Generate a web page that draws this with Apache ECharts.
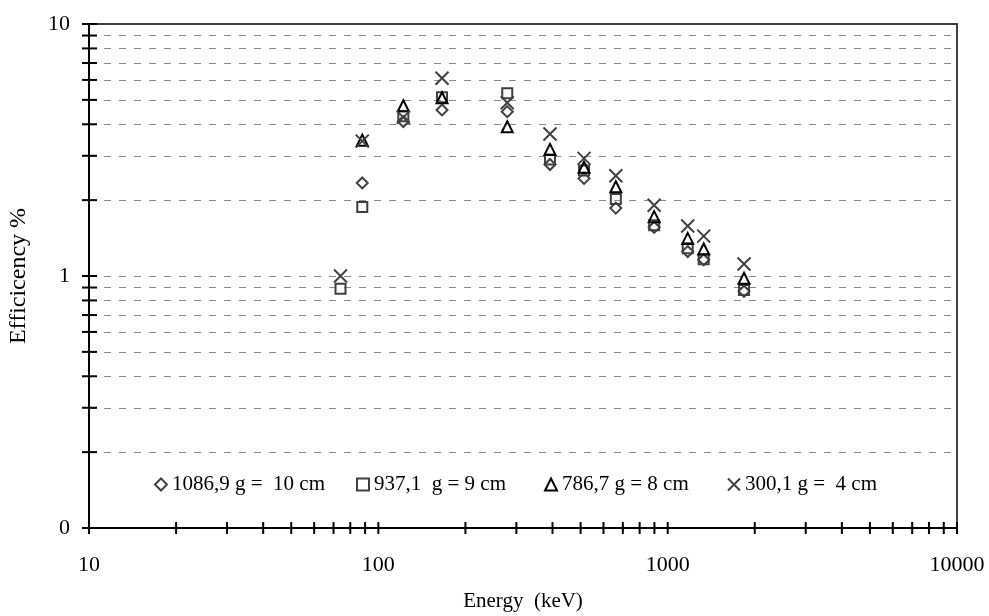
<!DOCTYPE html>
<html><head><meta charset="utf-8">
<script src="https://cdn.jsdelivr.net/npm/echarts@6/dist/echarts.min.js"></script>
<style>html,body{margin:0;padding:0;background:#fff}#c{width:989px;height:616px}</style>
</head><body><div id="c"></div>
<script>
const energies = [74, 88, 122, 166, 279, 392, 514, 662, 898, 1173, 1332, 1836];
const seriesNames = ['1086,9 g =  10 cm', '937,1  g = 9 cm', '786,7 g = 8 cm', '300,1 g =  4 cm'];
const diamondVals = [null, 2.34, 4.10, 4.56, 4.49, 2.77, 2.44, 1.86, 1.56, 1.25, 1.16, 0.87];
const squareVals = [0.89, 1.88, 4.30, 5.12, 5.31, 2.90, 2.62, 2.02, 1.59, 1.29, 1.165, 0.88];
const triangleVals = [null, 3.46, 4.74, 5.10, 3.91, 3.18, 2.70, 2.26, 1.72, 1.41, 1.28, 0.98];
const crossVals = [1.00, 3.43, 4.26, 6.09, 4.87, 3.66, 2.93, 2.50, 1.91, 1.58, 1.44, 1.116];
const xTickValues = [10,20,30,40,50,60,70,80,90,100,200,300,400,500,600,700,800,900,1000,2000,3000,4000,5000,6000,7000,8000,9000,10000];
const yTickValues = [0.1,0.2,0.3,0.4,0.5,0.6,0.7,0.8,0.9,1,2,3,4,5,6,7,8,9,10];
const yGridValues = [0.2,0.3,0.4,0.5,0.6,0.7,0.8,0.9,1,2,3,4,5,6,7,8,9];

const FONT = 'Liberation Serif';
function pairs(vals) { return energies.map((e, i) => vals[i] == null ? null : [e, vals[i]]).filter(Boolean); }

const symbols = ['diamond', 'rect', 'triangle', 'path://M0,0L10,10M10,0L0,10'];
const sizes = [11, 10, 11, 13];
const colors = ['#404040', '#404040', '#000000', '#404040'];
const valueSets = [diamondVals, squareVals, triangleVals, crossVals];
const legendLefts = [154, 356, 544, 727];

const scatterSeries = seriesNames.map((n, i) => ({
  name: n, type: 'scatter', symbol: symbols[i], symbolSize: sizes[i],
  data: pairs(valueSets[i]), z: 5,
  itemStyle: { color: 'rgba(0,0,0,0)', borderColor: colors[i], borderWidth: 2, opacity: 1 },
  emphasis: { disabled: true }
}));

const tickLine = (horizontal) => (params, api) => {
  const p = api.coord([api.value(0), api.value(1)]);
  const shape = horizontal ? { x1: p[0] - 7, y1: p[1], x2: p[0] + 8, y2: p[1] }
                           : { x1: p[0], y1: p[1] - 6, x2: p[0], y2: p[1] + 6 };
  return { type: 'line', shape, style: { stroke: '#000', lineWidth: 2 } };
};

const option = {
  animation: false,
  backgroundColor: '#fff',
  grid: { left: 89, right: 32, top: 24, bottom: 88, containLabel: false, outerBoundsMode: 'none',
    show: true, borderColor: '#404040', borderWidth: 2, backgroundColor: 'transparent' },
  legend: seriesNames.map((n, i) => ({
    data: [n], left: legendLefts[i], top: 474, padding: 0, itemWidth: 12, itemHeight: 12, itemGap: 4,
    textStyle: { fontFamily: FONT, fontSize: 21, color: '#000' }, selectedMode: false
  })),
  xAxis: {
    type: 'log', logBase: 10, min: 10, max: 10000,
    name: 'Energy  (keV)', nameLocation: 'middle', nameGap: 63,
    nameTextStyle: { fontFamily: FONT, fontSize: 21, color: '#000' },
    axisLine: { show: true, onZero: false, lineStyle: { color: '#000', width: 2 } },
    axisTick: { show: false }, splitLine: { show: false }, minorTick: { show: false },
    axisLabel: { fontFamily: FONT, fontSize: 22, color: '#000', margin: 26,
      formatter: v => String(Math.round(v)) }
  },
  yAxis: {
    type: 'log', logBase: 10, min: 0.1, max: 10,
    name: 'Efficicency %', nameLocation: 'middle', nameGap: 58,
    nameTextStyle: { fontFamily: FONT, fontSize: 24, color: '#000' },
    axisLine: { show: true, onZero: false, lineStyle: { color: '#000', width: 2 } },
    axisTick: { show: false }, splitLine: { show: false },
    axisLabel: { fontFamily: FONT, fontSize: 22, color: '#000', margin: 19,
      formatter: v => (v < 0.5 ? '0' : String(Math.round(v))) }
  },
  series: [
    {
      type: 'scatter', data: [], silent: true, symbolSize: 0,
      markLine: {
        silent: true, symbol: 'none', label: { show: false },
        lineStyle: { type: [7, 8], color: '#8a8a8a', width: 1 },
        data: yGridValues.map(v => ({ yAxis: v }))
      }
    },
    {
      type: 'custom', renderItem: tickLine(false), clip: false, silent: true, z: 10,
      data: xTickValues.map(v => [v, 0.1])
    },
    {
      type: 'custom', renderItem: tickLine(true), clip: false, silent: true, z: 10,
      data: yTickValues.map(v => [10, v])
    },
    ...scatterSeries
  ]
};
const chart = echarts.init(document.getElementById('c'), null, { renderer: 'canvas' });
chart.setOption(option);
</script>
</body></html>
